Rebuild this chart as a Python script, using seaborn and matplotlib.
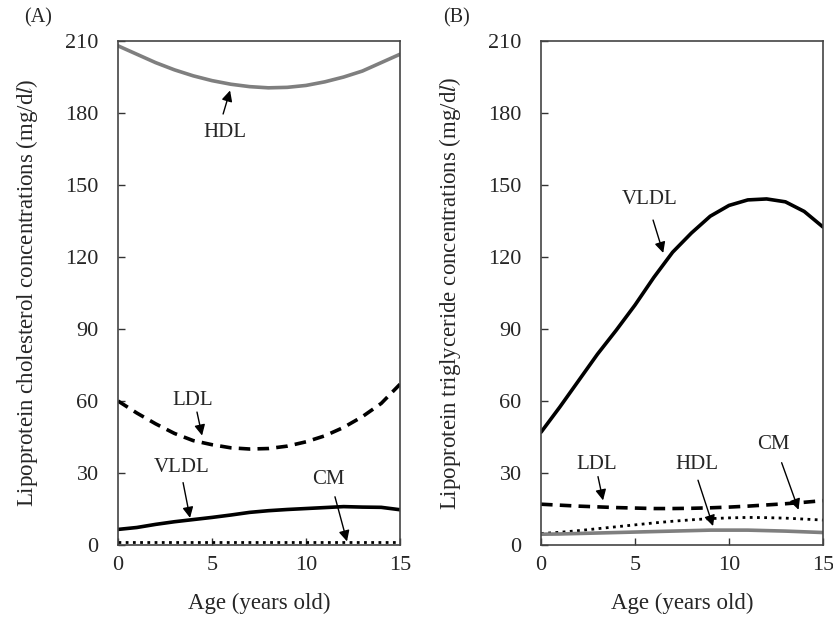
import matplotlib
matplotlib.use("Agg")
import matplotlib.pyplot as plt
import seaborn as sns

AGE = list(range(16))

# panel A: cholesterol (mg/dl)
CHOL_HDL = [208, 204.5, 201, 198, 195.5, 193.5, 192, 191, 190.5, 190.7, 191.5, 193, 195, 197.5, 201, 204.5]
CHOL_LDL = [60, 55, 50.5, 46.5, 43.5, 41.8, 40.5, 40, 40.2, 41.2, 43, 45.5, 49, 53.5, 59, 67]
CHOL_VLDL = [6.5, 7.3, 8.6, 9.7, 10.6, 11.5, 12.5, 13.6, 14.3, 14.8, 15.2, 15.6, 16, 15.8, 15.7, 14.7]
CHOL_CM = [1.2] * 16

# panel B: triglyceride (mg/dl)
TG_VLDL = [47, 57.5, 68.5, 79.5, 89.5, 100, 111.5, 122, 130, 137, 141.5, 143.8, 144.2, 143, 139, 132.5]
TG_LDL = [17, 16.6, 16.2, 15.9, 15.6, 15.4, 15.2, 15.2, 15.3, 15.5, 15.8, 16.2, 16.7, 17.2, 17.8, 18.5]
TG_CM = [4.8, 5.3, 6, 6.8, 7.6, 8.4, 9.2, 9.9, 10.5, 11, 11.3, 11.5, 11.4, 11.2, 10.8, 10.4]
TG_HDL = [4.5, 4.6, 4.8, 5, 5.2, 5.4, 5.6, 5.8, 6, 6.2, 6.2, 6.2, 6, 5.8, 5.5, 5.2]

X_TICKS = [0, 5, 10, 15]
Y_TICKS = [0, 30, 60, 90, 120, 150, 180, 210]

sns.set_theme(style="ticks")
plt.rcParams["font.family"] = ["Liberation Serif", "DejaVu Serif"]
plt.rcParams["mathtext.fontset"] = "stix"

GRAY = "#7f7f7f"
styles = {
    "HDL": dict(color=GRAY, lw=2.6, dashes=None),
    "LDL": dict(color="black", lw=2.6, dashes=(3.2, 2.0)),
    "VLDL": dict(color="black", lw=2.6, dashes=None),
    "CM": dict(color="black", lw=2.0, dashes=(1.0, 1.6)),
}


def draw(ax, name, values):
    st = styles[name]
    sns.lineplot(x=AGE, y=values, ax=ax, color=st["color"], linewidth=st["lw"])
    line = ax.lines[-1]
    if st["dashes"]:
        line.set_dashes(st["dashes"])


def arrow(ax, label, head, tail, text):
    ax.annotate("", xy=head, xytext=tail,
                arrowprops=dict(arrowstyle="-|>", color="black", lw=1.0,
                                mutation_scale=16, shrinkA=0, shrinkB=0))
    ax.text(text[0], text[1], label, ha="center", va="center", fontsize=15)


def style_axes(ax, ylabel):
    ax.set_xlim(0, 15)
    ax.set_ylim(0, 210)
    ax.set_xticks(X_TICKS)
    ax.set_yticks(Y_TICKS)
    ax.tick_params(axis="x", direction="in", length=5, width=1, pad=8, labelsize=16, color="#333333")
    ax.tick_params(axis="y", direction="in", length=5, width=1, pad=14, labelsize=16, color="#333333")
    for sp in ax.spines.values():
        sp.set_visible(True)
        sp.set_color("#444444")
        sp.set_linewidth(1.2)
    ax.set_xlabel("Age (years old)", fontsize=16.5, labelpad=13)
    ax.set_ylabel(ylabel, fontsize=16.5, labelpad=18)


fig = plt.figure(figsize=(8.33, 6.18), dpi=100)
axA = fig.add_axes([0.1417, 0.1181, 0.3385, 0.8155])
axB = fig.add_axes([0.6495, 0.1181, 0.3385, 0.8155])

draw(axA, "HDL", CHOL_HDL)
draw(axA, "LDL", CHOL_LDL)
draw(axA, "VLDL", CHOL_VLDL)
draw(axA, "CM", CHOL_CM)
style_axes(axA, r"Lipoprotein cholesterol concentrations (mg/d$\mathit{l}$)")

arrow(axA, "HDL", (5.96, 189.4), (5.59, 179.6), (5.69, 171.7))
arrow(axA, "LDL", (4.47, 45.6), (4.2, 55.4), (3.99, 60.3))
arrow(axA, "VLDL", (3.83, 11.3), (3.46, 26.0), (3.4, 32.4))
arrow(axA, "CM", (12.18, 1.5), (11.54, 20.1), (11.2, 27.5))

draw(axB, "VLDL", TG_VLDL)
draw(axB, "LDL", TG_LDL)
draw(axB, "CM", TG_CM)
draw(axB, "HDL", TG_HDL)
style_axes(axB, r"Lipoprotein triglyceride concentrations (mg/d$\mathit{l}$)")

arrow(axB, "VLDL", (6.5, 121.7), (5.96, 135.4), (5.8, 143.8))
arrow(axB, "LDL", (3.3, 18.6), (3.03, 28.5), (2.98, 33.4))
arrow(axB, "HDL", (9.15, 7.9), (8.35, 27.0), (8.3, 33.4))
arrow(axB, "CM", (13.7, 14.7), (12.8, 34.3), (12.34, 41.7))

fig.text(38 / 833, 1 - 18 / 618, "(A)", ha="center", va="center", fontsize=14.5)
fig.text(457 / 833, 1 - 18 / 618, "(B)", ha="center", va="center", fontsize=14.5)

fig.savefig("out.png", dpi=100)
